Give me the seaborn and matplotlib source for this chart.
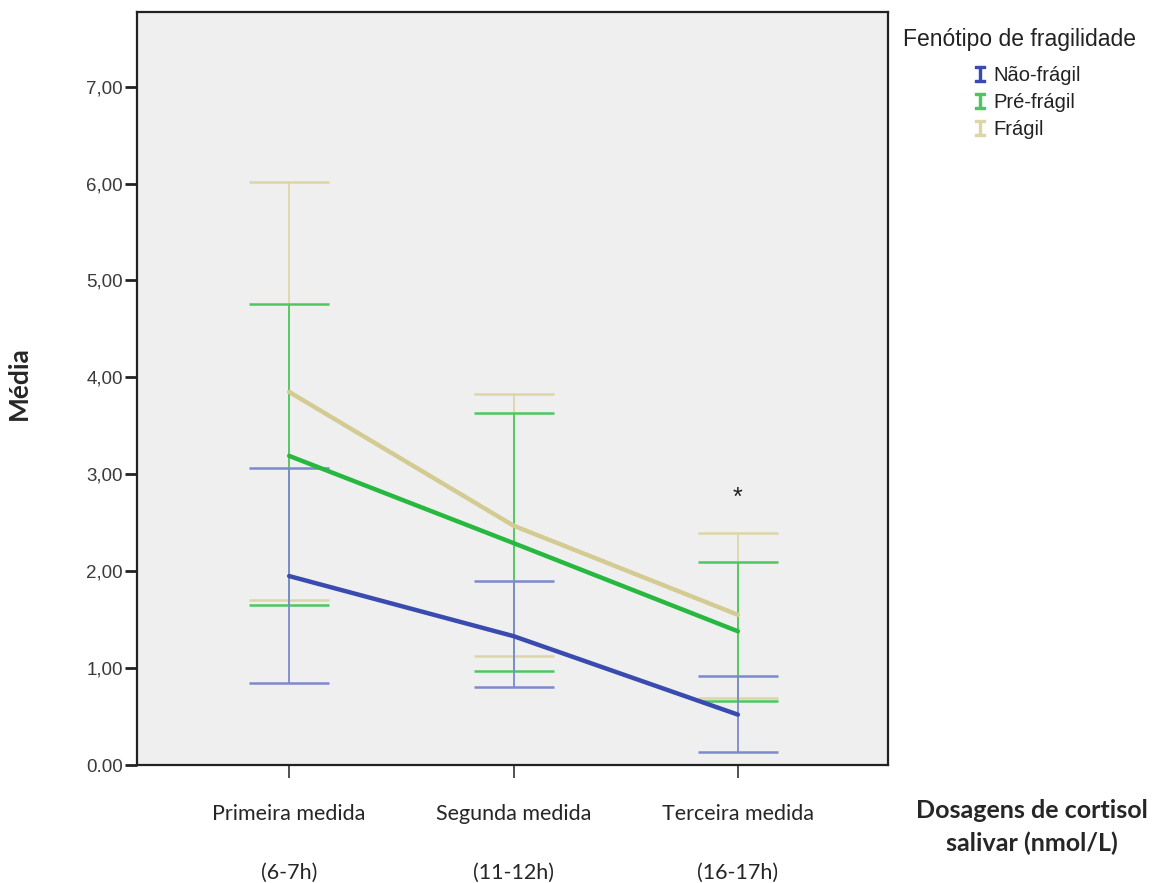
import matplotlib
matplotlib.use("Agg")
import matplotlib.pyplot as plt
import seaborn as sns
import pandas as pd
from matplotlib.lines import Line2D

# ---- data ----
categories = ["Primeira medida", "Segunda medida", "Terceira medida"]
hours = ["(6-7h)", "(11-12h)", "(16-17h)"]
groups = ["Não-frágil", "Pré-frágil", "Frágil"]

mean_nao = [1.95, 1.33, 0.52]
low_nao = [0.85, 0.80, 0.13]
high_nao = [3.06, 1.90, 0.92]

mean_pre = [3.19, 2.29, 1.38]
low_pre = [1.65, 0.97, 0.66]
high_pre = [4.76, 3.63, 2.09]

mean_fra = [3.85, 2.47, 1.55]
low_fra = [1.70, 1.12, 0.69]
high_fra = [6.02, 3.83, 2.39]

ytick_vals = [0, 1, 2, 3, 4, 5, 6, 7]
ytick_labels = ["0.00", "1,00", "2,00", "3,00", "4,00", "5,00", "6,00", "7,00"]

line_colors = {"Não-frágil": "#3a4bb0", "Pré-frágil": "#27b83f", "Frágil": "#d3cb92"}
err_colors = {"Não-frágil": "#7d89cc", "Pré-frágil": "#4cc75e", "Frágil": "#dcd6a6"}

means = {"Não-frágil": mean_nao, "Pré-frágil": mean_pre, "Frágil": mean_fra}
lows = {"Não-frágil": low_nao, "Pré-frágil": low_pre, "Frágil": low_fra}
highs = {"Não-frágil": high_nao, "Pré-frágil": high_pre, "Frágil": high_fra}

rows = []
for g in groups:
    for i, c in enumerate(categories):
        rows.append({"pos": i, "grupo": g, "media": means[g][i]})
df = pd.DataFrame(rows)

sns.set_theme(style="white")
plt.rcParams["font.family"] = ["Liberation Sans", "DejaVu Sans"]

fig = plt.figure(figsize=(11.56, 8.83), dpi=100)
ax = fig.add_axes([0.1185, 0.1336, 0.6495, 0.8528])
ax.set_facecolor("#efefef")

# error bars (drawn first, behind lines)
for g in ["Frágil", "Pré-frágil", "Não-frágil"]:
    m = means[g]
    lo = [m[i] - lows[g][i] for i in range(3)]
    hi = [highs[g][i] - m[i] for i in range(3)]
    ax.errorbar(range(3), m, yerr=[lo, hi], fmt="none", ecolor=err_colors[g],
                elinewidth=1.3, capsize=29, capthick=1.8, zorder=2)

sns.lineplot(data=df, x="pos", y="media", hue="grupo", hue_order=groups,
             palette=line_colors, linewidth=3.2, legend=False, ax=ax, zorder=3)

ax.text(2, 2.76, "*", ha="center", va="center", fontsize=18, color="#222222")

ax.set_xlim(-0.678, 2.668)
ax.set_ylim(0, 7.77)
ax.set_xticks(range(3))
ax.set_xticklabels([f"{c}\n\n{h}" for c, h in zip(categories, hours)],
                   fontsize=15.5, family=["Lato", "DejaVu Sans"], linespacing=1.6)
ax.set_yticks(ytick_vals)
ax.set_yticklabels(ytick_labels, fontsize=13.5, color="#3a3a3a",
                   family=["Liberation Sans", "DejaVu Sans"])
ax.tick_params(axis="x", direction="out", length=9, width=1.2, color="#333333", pad=19, bottom=True)
ax.tick_params(axis="y", direction="out", length=9, width=2, color="#222222", pad=1, left=True)
for s in ax.spines.values():
    s.set_visible(True)
    s.set_color("#222222")
    s.set_linewidth(1.6)
ax.set_xlabel("")
ax.set_ylabel("")

fig.text(0.016, 0.566, "Média", rotation=90, ha="center", va="center",
         fontsize=19, fontweight="bold", family=["Lato", "DejaVu Sans"])
fig.text(0.893, 0.063, "Dosagens de cortisol\nsalivar (nmol/L)", ha="center", va="center",
         fontsize=18, fontweight="bold", family=["Lato", "DejaVu Sans"], linespacing=1.5)

# legend
fig.text(0.781, 0.955, "Fenótipo de fragilidade", ha="left", va="center",
         fontsize=16.5, color="#222222")
handles = [Line2D([], [], linestyle="none", marker=r"$\mathtt{I}$", markersize=12,
                  color=err_colors[g] if g != "Não-frágil" else line_colors[g]) for g in groups]
leg = fig.legend(handles, groups, loc="upper left", bbox_to_anchor=(0.835, 0.934),
                 frameon=False, fontsize=14.5, handlelength=0.7, handletextpad=0.3,
                 labelspacing=0.38, borderaxespad=0)
for t in leg.get_texts():
    t.set_color("#222222")

fig.savefig("out.png", dpi=100, facecolor="white")
